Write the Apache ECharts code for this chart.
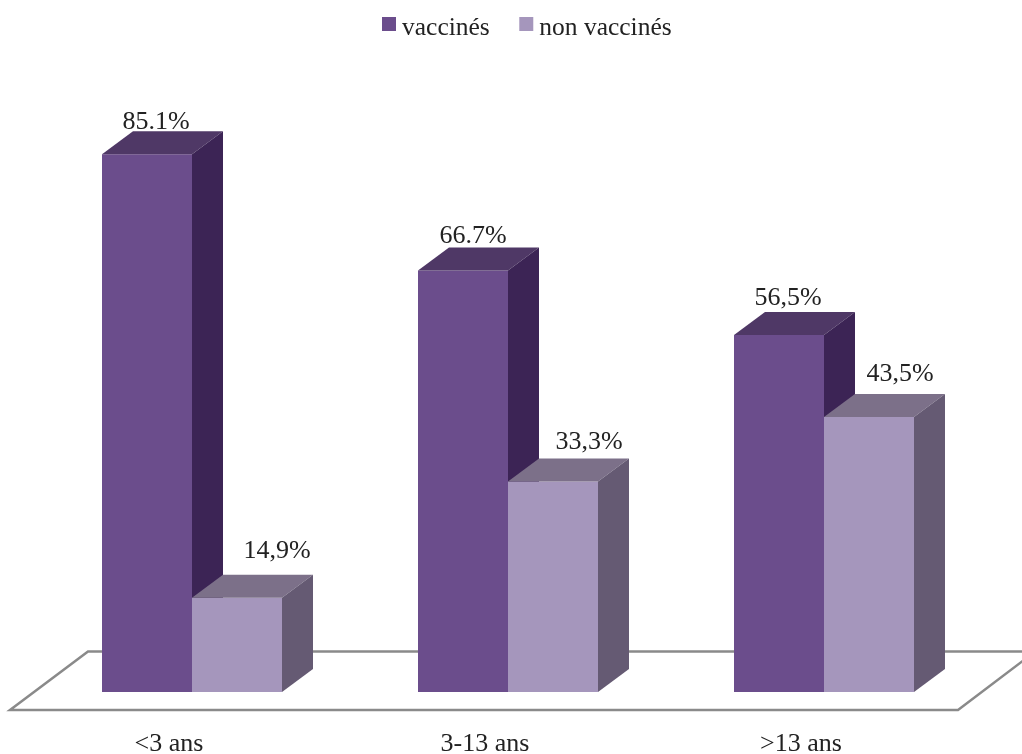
<!DOCTYPE html>
<html>
<head>
<meta charset="utf-8">
<style>
  html, body { margin: 0; padding: 0; background: #fff; }
  #chart { width: 1022px; height: 754px; }
</style>
<script src="https://cdn.jsdelivr.net/npm/echarts@6/dist/echarts.min.js"></script>
</head>
<body>
<div id="chart"></div>
<script>
const categories = ['<3 ans', '3-13 ans', '>13 ans'];
const vaccines = [85.1, 66.7, 56.5];
const nonVaccines = [14.9, 33.3, 43.5];
const vaccinesLabels = ['85.1%', '66.7%', '56,5%'];
const nonVaccinesLabels = ['14,9%', '33,3%', '43,5%'];

const serif = '"Liberation Serif", serif';
const depthX = 31;
const depthY = 23;
const barShare = 90 / 316; // part of a category taken by one bar

// face colours: front, top, side
const darkFaces = ['#6b4d8c', '#4f3866', '#3c2455'];
const lightFaces = ['#a596bc', '#7c7089', '#655a73'];

// where each value label sits, from the top left of the bar front
const darkLabelShift = [[54, -32], [55, -34], [54, -37]];
const lightLabelShift = [[85, -47], [81, -39], [76, -43]];

function face(points, color) {
    return { type: 'polygon', shape: { points: points }, style: { fill: color } };
}

function bar3d(side, faces, labels, shifts) {
    return function (params, api) {
        const idx = api.value(0);
        const top = api.coord([idx, api.value(1)]);
        const base = api.coord([idx, 0]);
        const w = api.size([1, 0])[0] * barShare;
        const x0 = side === 0 ? top[0] - w : top[0];
        const x1 = x0 + w;
        return {
            type: 'group',
            children: [
                face([[x0, base[1]], [x1, base[1]], [x1, top[1]], [x0, top[1]]], faces[0]),
                face([[x0, top[1]], [x1, top[1]], [x1 + depthX, top[1] - depthY], [x0 + depthX, top[1] - depthY]], faces[1]),
                face([[x1, base[1]], [x1 + depthX, base[1] - depthY], [x1 + depthX, top[1] - depthY], [x1, top[1]]], faces[2]),
                {
                    type: 'text',
                    style: {
                        text: labels[idx],
                        x: x0 + shifts[idx][0],
                        y: top[1] + shifts[idx][1],
                        align: 'center',
                        verticalAlign: 'middle',
                        font: '26px ' + serif,
                        fill: '#222'
                    }
                }
            ]
        };
    };
}

let myChart = echarts.init(document.getElementById('chart'));
myChart.setOption({
    animation: false,
    backgroundColor: '#fff',
    legend: {
        left: 377,
        top: 10,
        itemWidth: 14,
        itemHeight: 14,
        itemGap: 29.5,
        icon: 'rect',
        formatter: '{t|{name}}',
        textStyle: {
            rich: {
                t: { fontFamily: serif, fontSize: 25.5, color: '#222', padding: [8, 0, 0, 1] }
            }
        },
        data: ['vaccinés', 'non vaccinés']
    },
    grid: { left: 34, top: 60, width: 948, height: 632, outerBoundsMode: 'none' },
    xAxis: {
        type: 'category',
        data: categories,
        axisLine: { show: false },
        axisTick: { show: false },
        axisLabel: {
            interval: 0,
            margin: 39,
            padding: [0, 46, 0, 0],
            fontFamily: serif,
            fontSize: 26,
            color: '#222'
        }
    },
    yAxis: { type: 'value', min: 0, max: 100, show: false },
    graphic: [
        {
            type: 'polyline',
            z: 0,
            shape: { points: [[1024, 651.5], [88, 651.5], [10, 710], [958, 710], [1024, 660]] },
            style: { stroke: '#8a8a8a', lineWidth: 2.5, fill: 'none' }
        }
    ],
    series: [
        {
            name: 'vaccinés',
            type: 'custom',
            z: 3,
            itemStyle: { color: darkFaces[0] },
            encode: { x: 0, y: 1 },
            data: vaccines.map(function (v, i) { return [i, v]; }),
            renderItem: bar3d(0, darkFaces, vaccinesLabels, darkLabelShift)
        },
        {
            name: 'non vaccinés',
            type: 'custom',
            z: 4,
            itemStyle: { color: lightFaces[0] },
            encode: { x: 0, y: 1 },
            data: nonVaccines.map(function (v, i) { return [i, v]; }),
            renderItem: bar3d(1, lightFaces, nonVaccinesLabels, lightLabelShift)
        }
    ]
});
</script>
</body>
</html>
